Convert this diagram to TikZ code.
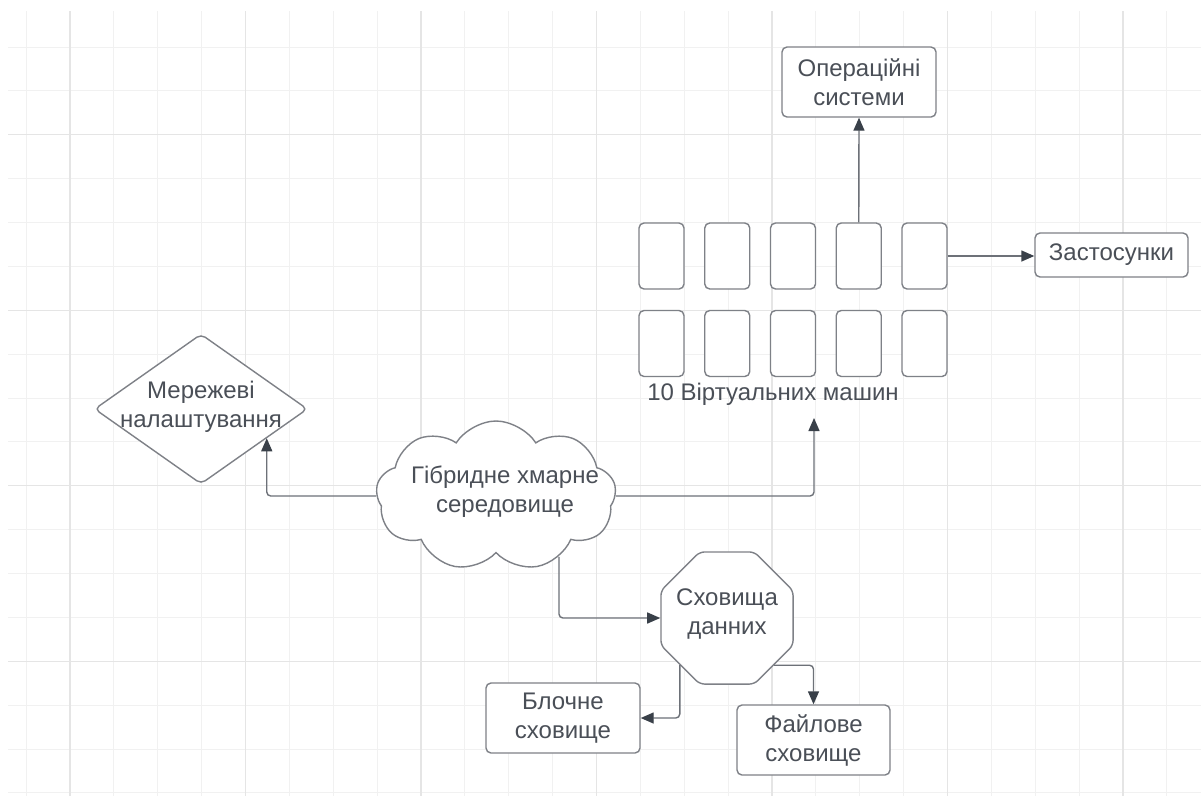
\documentclass[tikz,border=0pt]{standalone}
\usepackage{fontspec}
\setmainfont{Liberation Sans}
\usetikzlibrary{shapes.geometric,shapes.symbols,arrows.meta}

\definecolor{gridminor}{HTML}{F1F1F1}
\definecolor{gridmajor}{HTML}{E5E5E5}
\definecolor{shapeline}{HTML}{7E8187}
\definecolor{wirecol}{HTML}{6D7178}
\definecolor{tipcol}{HTML}{394049}
\definecolor{ink}{HTML}{4A4F57}

\begin{document}
\begin{tikzpicture}[x=1pt,y=-1pt,
  txt/.style={font=\fontsize{24}{29}\selectfont, text=ink, align=center, inner sep=0pt},
  box/.style={txt, draw=shapeline, line width=1.4pt, rounded corners=5pt, fill=white},
  vmbox/.style={box, minimum width=45pt, minimum height=66pt},
  outline/.style={draw=shapeline, line width=1.4pt, fill=white, inner sep=0pt},
  conn/.style={draw=wirecol, line width=1.4pt, rounded corners=4pt,
    -{Triangle[length=13pt,width=11pt,color=tipcol]}}
]
% page and grid
\fill[white] (0,0) rectangle (1201,796);
\useasboundingbox (0,0) rectangle (1201,796);
\foreach \k in {0,...,26} {
  \pgfmathsetmacro\gx{26+43.88*\k}
  \draw[gridminor, line width=1pt] (\gx,11) -- (\gx,796);
}
\foreach \j in {0,...,17} {
  \pgfmathsetmacro\gy{47+43.88*\j}
  \draw[gridminor, line width=1pt] (8,\gy) -- (1201,\gy);
}
\foreach \k in {1,5,...,25} {
  \pgfmathsetmacro\gx{26+43.88*\k}
  \draw[gridmajor, line width=1.3pt] (\gx,11) -- (\gx,796);
}
\foreach \j in {2,6,10,14} {
  \pgfmathsetmacro\gy{47+43.88*\j}
  \draw[gridmajor, line width=1.3pt] (8,\gy) -- (1201,\gy);
}

% virtual machines
\foreach \i in {1,...,5} {
  \node[vmbox] (vmt\i) at ({661.5+65.75*(\i-1)},256) {};
  \node[vmbox] (vmb\i) at ({661.5+65.75*(\i-1)},343.5) {};
}
\node[txt, anchor=base] (vmlabel) at (773,400) {10 Віртуальних машин};
\coordinate (vmgroup) at (814,418);

% boxes
\node[box, minimum width=154pt, minimum height=70pt] (ops) at (859,82) {Операційні\\системи};
\node[box, minimum width=153pt, minimum height=44pt] (apps) at (1111.5,255) {Застосунки};
\node[box, minimum width=154pt, minimum height=70pt] (block) at (563,718) {Блочне\\сховище};
\node[box, minimum width=153pt, minimum height=70pt] (file) at (813.5,740) {Файлове\\сховище};

% network settings
\node[outline, diamond, rounded corners=5pt, minimum width=213pt, minimum height=150pt] (net) at (201,409) {};
\node[txt] (nettxt) at (201,407) {Мережеві\\налаштування};

% hybrid cloud
\node[outline, cloud, cloud puffs=9, cloud puff arc=115, aspect=1.6,
  minimum width=240pt, minimum height=150pt] (cloud) at (496,496) {};
\node[txt] (cloudtxt) at (505,492) {Гібридне хмарне\\середовище};

% data storage
\node[outline, regular polygon, regular polygon sides=8, rounded corners=5pt,
  minimum size=143pt] (store) at (727,618) {};
\node[txt] (storetxt) at (727,614) {Сховища\\данних};

% connectors
\draw[conn] (vmt4.north) -- (ops.south);
\draw[conn] (vmt5.east) -- (vmt5.east -| apps.west);
\draw[conn] (cloud.east) -| (vmgroup);
\draw[conn] (cloud.west) -| (net.-24);
\draw[conn] (cloud.-44) |- (store.west);
\draw[conn] (store.-135) |- (block.east);
\draw[conn] (store.-45) -| (file.north);
\end{tikzpicture}
\end{document}
